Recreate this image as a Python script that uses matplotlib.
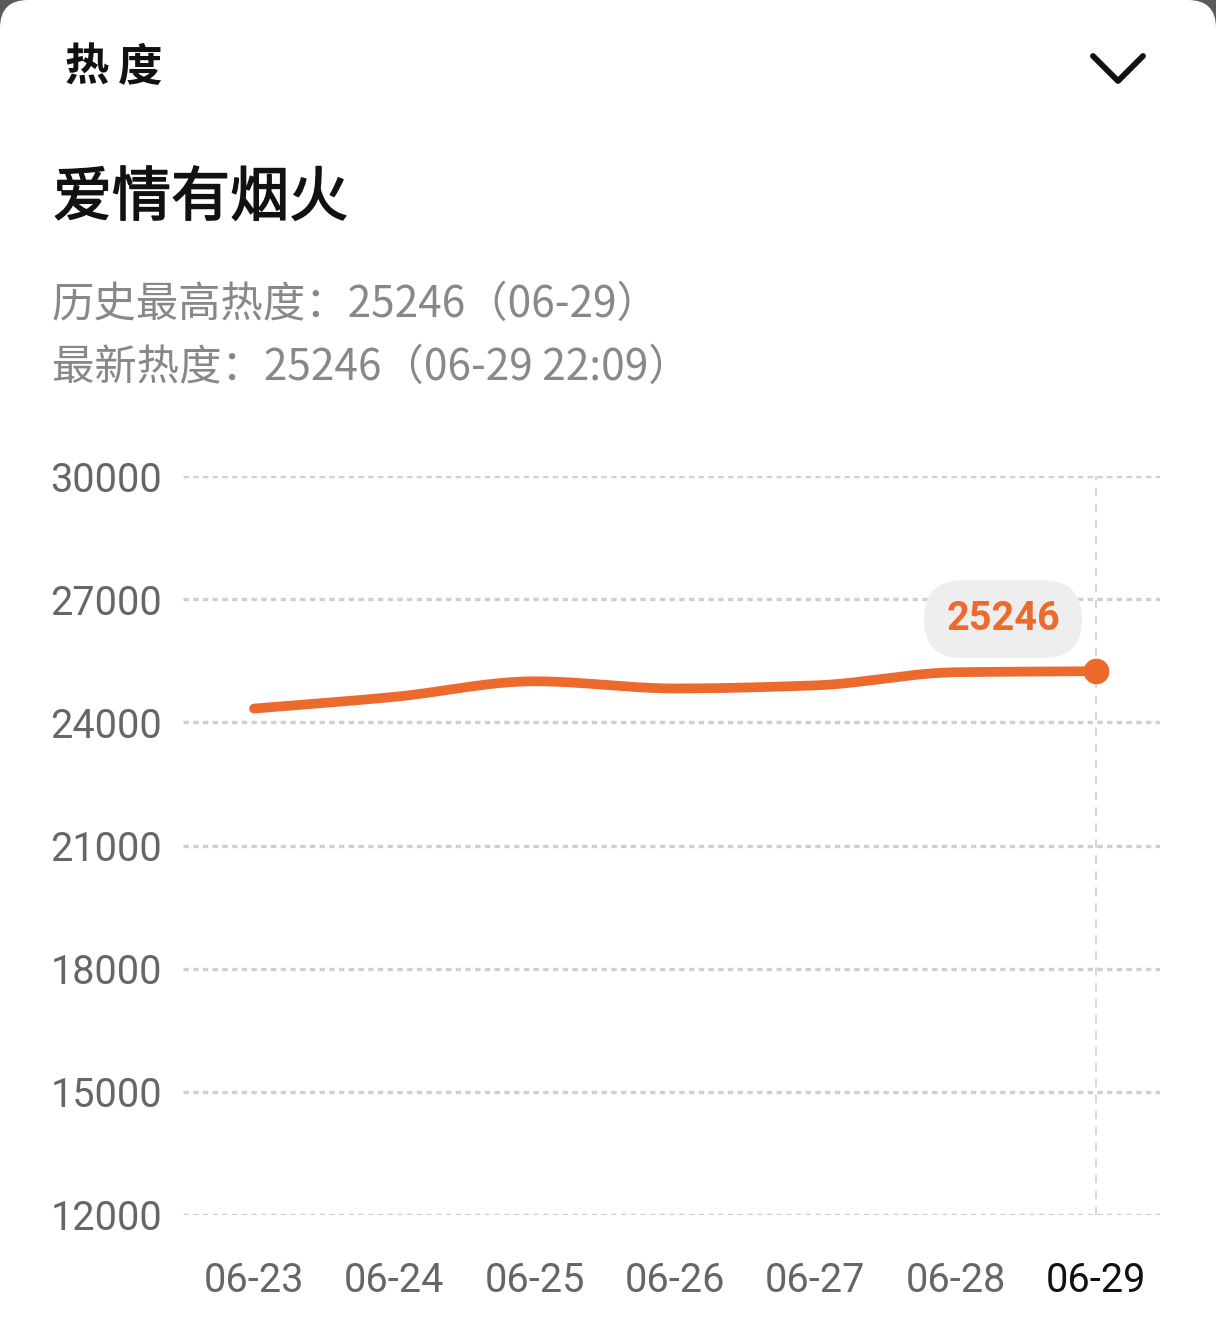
import numpy as np
import matplotlib
matplotlib.use("Agg")
import matplotlib.pyplot as plt
import matplotlib.patheffects as pe
from matplotlib.patches import FancyBboxPatch
from matplotlib.lines import Line2D
from matplotlib.transforms import IdentityTransform, ScaledTranslation

# data
dates = ["06-23", "06-24", "06-25", "06-26", "06-27", "06-28", "06-29"]
heat = [24335, 24620, 25000, 24825, 24900, 25220, 25246]
yticks = [12000, 15000, 18000, 21000, 24000, 27000, 30000]

title = "爱情有烟火"
header = "热度"
line1 = "历史最高热度：25246（06-29）"
line2 = "最新热度：25246（06-29 22:09）"

ORANGE = "#EC6A2C"
CJK = ["Noto Sans CJK SC", "DejaVu Sans"]
NUM = ["Roboto", "DejaVu Sans"]

plt.rcParams["lines.scale_dashes"] = False

W, H = 1216, 1325
fig = plt.figure(figsize=(W / 100, H / 100), dpi=100)
fig.patch.set_facecolor("#5a5a5a")

# white card, only the top corners rounded (bottom runs off the page)
card = FancyBboxPatch((0, -80), W, H + 80, boxstyle="round,pad=0,rounding_size=28",
                      transform=IdentityTransform(), facecolor="white",
                      edgecolor="none", zorder=-10)
fig.patches.append(card)


def fx(px):
    return px / W


def fy(py):
    return 1 - py / H


# header: two spaced characters
for ch, cx in zip(header, [87, 140]):
    fig.text(fx(cx), fy(68), ch, family=CJK, fontsize=32, fontweight="bold",
             color="#111111", va="center", ha="center")
# title a touch heavier than regular
fig.text(fx(53), fy(199), title, family=CJK, fontsize=42.5,
         color="#111111", va="center", ha="left",
         path_effects=[pe.withStroke(linewidth=1.1, foreground="#111111")])
fig.text(fx(52), fy(305), line1, family=CJK, fontsize=30.5, color="#888888",
         va="center", ha="left")
fig.text(fx(52), fy(368), line2, family=CJK, fontsize=30.5, color="#888888",
         va="center", ha="left")

# chevron
fig.add_artist(Line2D([fx(1093), fx(1118), fx(1143)], [fy(56), fy(81), fy(56)],
                      transform=fig.transFigure, color="#111111", lw=4.2,
                      solid_capstyle="round", solid_joinstyle="round"))

# chart area
left, right, top, bottom = 183, 1160, 476, 1215
ax = fig.add_axes([fx(left), fy(bottom), fx(right - left), (bottom - top) / H])
ax.set_facecolor("none")
step = (1096 - 254) / 6
ax.set_xlim(-(254 - left) / step, 6 + (right - 1096) / step)
ax.set_ylim(12000, 30000)
for s in ax.spines.values():
    s.set_visible(False)

for v in yticks:
    ax.axhline(v, color="#cfcfcf", lw=2.4, dashes=(3.8, 3.2), zorder=1)
ax.axvline(len(dates) - 1, color="#d2d2d2", lw=1.3, dashes=(6, 5.5), zorder=1)

ax.set_yticks(yticks)
ax.set_yticklabels([str(v) for v in yticks], family=NUM, fontsize=28.5, color="#666666")
ax.set_xticks(range(len(dates)))
ax.set_xticklabels(dates, family=NUM, fontsize=28.5, color="#666666")
ax.get_xticklabels()[-1].set_color("#111111")
ax.tick_params(axis="y", length=0, pad=15)
ax.tick_params(axis="x", length=0, pad=33)

# monotone cubic through the points (smooth line like the source chart)
x = np.arange(len(heat), dtype=float)
y = np.array(heat, dtype=float)
h = np.diff(x)
d = np.diff(y) / h
m = np.zeros_like(y)
m[0], m[-1] = d[0], d[-1]
for k in range(1, len(y) - 1):
    if d[k - 1] * d[k] > 0:
        m[k] = 2 / (1 / d[k - 1] + 1 / d[k])
xs, ys = [], []
for k in range(len(y) - 1):
    t = np.linspace(0, 1, 40)
    h00 = 2 * t**3 - 3 * t**2 + 1
    h10 = t**3 - 2 * t**2 + t
    h01 = -2 * t**3 + 3 * t**2
    h11 = t**3 - t**2
    xs.append(x[k] + t * h[k])
    ys.append(h00 * y[k] + h10 * h[k] * m[k] + h01 * y[k + 1] + h11 * h[k] * m[k + 1])
ax.plot(np.concatenate(xs), np.concatenate(ys), color=ORANGE, lw=7,
        solid_capstyle="round", zorder=3)
ax.plot(x[-1], y[-1], "o", color=ORANGE, ms=18.5, mec="none", zorder=4)

# callout pill above last point
anchor = ScaledTranslation(x[-1], y[-1], ax.transData)
pill = FancyBboxPatch((-172, 13), 158, 78, boxstyle="round,pad=0,rounding_size=39",
                      transform=IdentityTransform() + anchor, facecolor="#eeeeee",
                      edgecolor="none", zorder=5)
ax.add_patch(pill)
ax.text(-93, 52, str(heat[-1]), transform=IdentityTransform() + anchor,
        family=NUM, fontsize=28.5, fontweight="bold", color=ORANGE,
        ha="center", va="center", zorder=6)

fig.savefig("out.png", dpi=100, facecolor=fig.get_facecolor())
